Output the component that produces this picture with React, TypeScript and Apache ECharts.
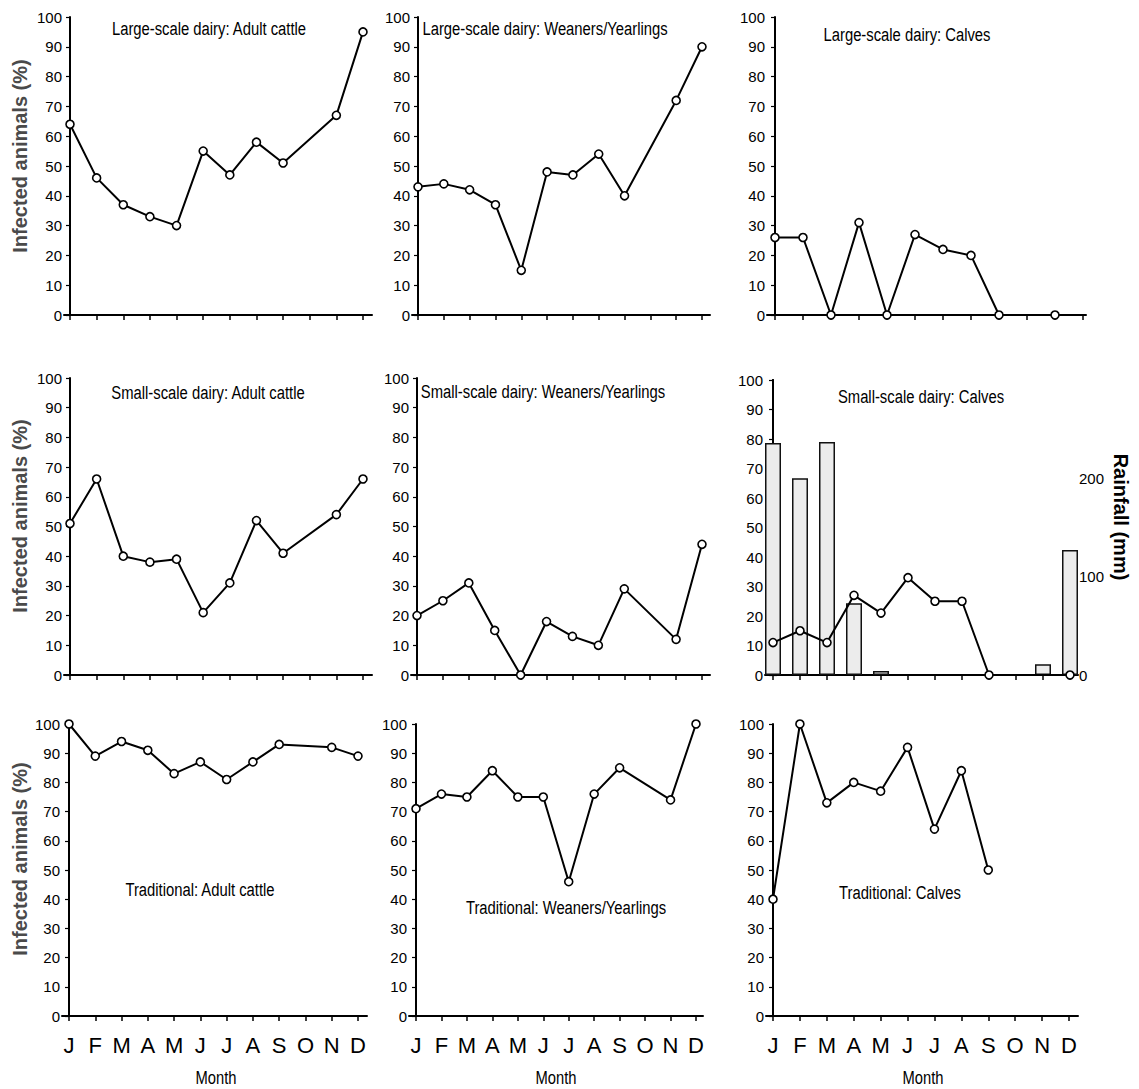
import React, { useEffect, useRef } from 'react';
import * as echarts from 'echarts';

// ---- Data ----
const months = ['J', 'F', 'M', 'A', 'M', 'J', 'J', 'A', 'S', 'O', 'N', 'D'];
const monthIdx = [0, 1, 2, 3, 4, 5, 6, 7, 8, 9, 10, 11];
const rainfallTicks = [0, 100, 200];

const largeAdult = [64, 46, 37, 33, 30, 55, 47, 58, 51, null, 67, 95];
const largeWeaners = [43, 44, 42, 37, 15, 48, 47, 54, 40, null, 72, 90];
const largeCalves = [26, 26, 0, 31, 0, 27, 22, 20, 0, null, 0, null];
const smallAdult = [51, 66, 40, 38, 39, 21, 31, 52, 41, null, 54, 66];
const smallWeaners = [20, 25, 31, 15, 0, 18, 13, 10, 29, null, 12, 44];
const smallCalves = [11, 15, 11, 27, 21, 33, 25, 25, 0, null, null, 0];
const tradAdult = [100, 89, 94, 91, 83, 87, 81, 87, 93, null, 92, 89];
const tradWeaners = [71, 76, 75, 84, 75, 75, 46, 76, 85, null, 74, 100];
const tradCalves = [40, 100, 73, 80, 77, 92, 64, 84, 50, null, null, null];
const rainfallMm = [236, 200, 237, 73, 4, null, null, null, null, null, 11, 127];

const panelTitles = [
  'Large-scale dairy: Adult cattle',
  'Large-scale dairy: Weaners/Yearlings',
  'Large-scale dairy: Calves',
  'Small-scale dairy: Adult cattle',
  'Small-scale dairy: Weaners/Yearlings',
  'Small-scale dairy: Calves',
  'Traditional: Adult cattle',
  'Traditional: Weaners/Yearlings',
  'Traditional: Calves',
];
const panelSeries = [
  largeAdult, largeWeaners, largeCalves,
  smallAdult, smallWeaners, smallCalves,
  tradAdult, tradWeaners, tradCalves,
];
const yName = 'Infected animals (%)';
const y2Name = 'Rainfall (mm)';
const xName = 'Month';

// ---- Layout (pixels) ----
const layout = [
  { L: 64, R: 372, J: 70, D: 363, T: 17, B: 315, tx: 209, ty: 29 },
  { L: 412, R: 710, J: 418, D: 702, T: 17, B: 315, tx: 545, ty: 29 },
  { L: 767, R: 1086, J: 775, D: 1083, T: 17, B: 315, tx: 907, ty: 35 },
  { L: 64, R: 372, J: 70, D: 363, T: 378, B: 675, tx: 208, ty: 393 },
  { L: 411, R: 710, J: 417, D: 702, T: 378, B: 675, tx: 543, ty: 392 },
  { L: 765, R: 1078, J: 773, D: 1070, T: 380, B: 675, tx: 921, ty: 397 },
  { L: 62, R: 367, J: 69, D: 358, T: 724, B: 1016, tx: 200, ty: 890 },
  { L: 409, R: 703, J: 416, D: 696, T: 724, B: 1016, tx: 566, ty: 908 },
  { L: 766, R: 1078, J: 773, D: 1069, T: 724, B: 1016, tx: 900, ty: 893 },
];
const yNamePos = [
  { x: 20, y: 156 },
  { x: 20, y: 516 },
  { x: 20, y: 859 },
];
const monthNamePos = [
  { x: 216, y: 1077 },
  { x: 556, y: 1077 },
  { x: 923, y: 1077 },
];

const SANS = "'Liberation Sans', Arial, sans-serif";

function buildOption() {
  const grid: any[] = [];
  const xAxis: any[] = [];
  const yAxis: any[] = [];
  const series: any[] = [];
  const graphic: any[] = [];

  layout.forEach((p, i) => {
    const u = (p.D - p.J) / 11;
    const min = -(p.J - p.L) / u;
    const max = 11 + (p.R - p.D) / u;
    const bottomRow = i >= 6;
    grid.push({ left: p.L, top: p.T, width: p.R - p.L, height: p.B - p.T });
    xAxis.push({
      type: 'value', gridIndex: i, min, max,
      axisLine: { show: true, onZero: false, lineStyle: { color: '#000', width: 2 } },
      axisTick: { show: false }, axisLabel: { show: false }, splitLine: { show: false },
    });
    xAxis.push({
      type: 'value', gridIndex: i, min, max, position: 'bottom', offset: 5,
      axisLine: { show: false },
      axisTick: { show: true, customValues: monthIdx, length: 5, lineStyle: { color: '#000', width: 1.5 } },
      axisLabel: {
        show: bottomRow, customValues: monthIdx, formatter: (v: number) => months[Math.round(v)] ?? '',
        fontSize: 22, fontFamily: SANS, color: '#000', margin: 13,
      },
      splitLine: { show: false },
    });
    yAxis.push({
      type: 'value', gridIndex: i, min: 0, max: 100, interval: 10,
      axisLine: { show: true, lineStyle: { color: '#000', width: 2 } },
      axisTick: { show: true, length: 4, lineStyle: { color: '#000', width: 1.2 } },
      axisLabel: { fontSize: 15, fontFamily: SANS, color: '#000', margin: 2 },
      splitLine: { show: false },
    });
    series.push({
      type: 'line', xAxisIndex: i * 2, yAxisIndex: i,
      data: panelSeries[i].map((v, k) => (v == null ? null : [k, v])).filter((d) => d != null),
      symbol: 'circle', symbolSize: 8, z: 5,
      lineStyle: { color: '#000', width: 2 },
      itemStyle: { color: '#fff', borderColor: '#000', borderWidth: 1.6 },
    });
    graphic.push({
      type: 'text', x: p.tx, y: p.ty, z: 10, scaleX: 0.78,
      style: { text: panelTitles[i], fontSize: 19, fontFamily: SANS, fill: '#000', align: 'center', verticalAlign: 'middle' },
    });
  });

  // right rainfall axis on panel 5 (small-scale calves)
  yAxis.push({
    type: 'value', gridIndex: 5, position: 'right', min: 0, max: 300,
    axisLine: { show: true, lineStyle: { color: '#000', width: 2 } },
    axisTick: { show: true, customValues: rainfallTicks, length: 4, lineStyle: { color: '#000', width: 1.2 } },
    axisLabel: { customValues: rainfallTicks, fontSize: 15, fontFamily: SANS, color: '#000', margin: 1 },
    splitLine: { show: false },
  });
  series.push({
    type: 'bar', xAxisIndex: 10, yAxisIndex: 9, barWidth: 16, z: 1,
    data: rainfallMm.map((v, k) => (v == null ? null : [k, v])).filter((d) => d != null),
    itemStyle: { color: '#ececec', borderColor: '#111', borderWidth: 1.5 },
  });

  yNamePos.forEach((pos) => {
    graphic.push({
      type: 'text', x: pos.x, y: pos.y, rotation: Math.PI / 2,
      style: { text: yName, fontSize: 20, fontWeight: 'bold', fontFamily: SANS, fill: '#4a4a4a', align: 'center', verticalAlign: 'middle' },
    });
  });
  graphic.push({
    type: 'text', x: 1121, y: 517, rotation: -Math.PI / 2,
    style: { text: y2Name, fontSize: 20, fontWeight: 'bold', fontFamily: SANS, fill: '#000', align: 'center', verticalAlign: 'middle' },
  });
  monthNamePos.forEach((pos) => {
    graphic.push({
      type: 'text', x: pos.x, y: pos.y, scaleX: 0.82,
      style: { text: xName, fontSize: 18, fontFamily: SANS, fill: '#000', align: 'center', verticalAlign: 'middle' },
    });
  });

  return {
    animation: false,
    backgroundColor: '#fff',
    grid, xAxis, yAxis, series, graphic,
  };
}

export default function App() {
  const ref = useRef<HTMLDivElement>(null);
  useEffect(() => {
    if (!ref.current) return;
    const chart = echarts.init(ref.current, null, { renderer: 'svg' });
    chart.setOption(buildOption() as any);
    return () => chart.dispose();
  }, []);
  return (
    <div
      ref={ref}
      style={{ position: 'absolute', left: 0, top: 0, width: 1139, height: 1089, background: '#fff' }}
    />
  );
}
